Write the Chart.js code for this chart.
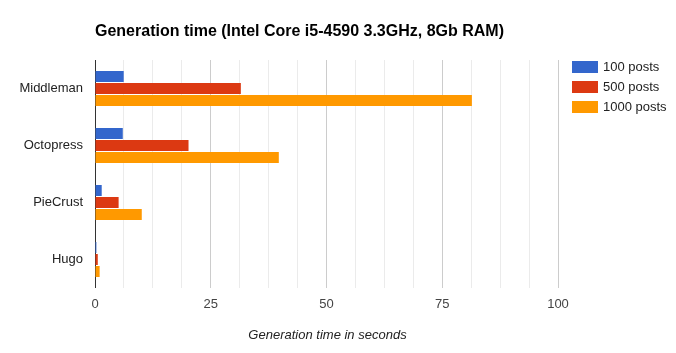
<!DOCTYPE html>
<html>
<head>
<meta charset="utf-8">
<script src="https://cdn.jsdelivr.net/npm/chart.js@4"></script>
<style>
html,body{margin:0;padding:0;background:#fff;}
#wrap{width:676px;height:353px;position:relative;}
</style>
</head>
<body>
<div id="wrap"><canvas id="c" width="676" height="353"></canvas></div>
<script>
const titleText = "Generation time (Intel Core i5-4590 3.3GHz, 8Gb RAM)";
const axisTitle = "Generation time in seconds";
const categories = ["Middleman", "Octopress", "PieCrust", "Hugo"];
const seriesNames = ["100 posts", "500 posts", "1000 posts"];
const posts100 = [6.2, 6.0, 1.45, 0.3];
const posts500 = [31.5, 20.2, 5.1, 0.6];
const posts1000 = [81.4, 39.7, 10.1, 1.0];
const tickLabels = [0, 25, 50, 75, 100];
const colors = ["#3366cc", "#dc3912", "#ff9900"];

const FONT = "Arial, 'Liberation Sans', sans-serif";

const overlay = {
  id: 'overlay',
  afterDraw(chart) {
    const ctx = chart.ctx;
    const ca = chart.chartArea;
    ctx.save();
    ctx.fillStyle = '#000';
    ctx.font = 'bold 16px ' + FONT;
    ctx.textBaseline = 'middle';
    ctx.textAlign = 'left';
    ctx.fillText(titleText, 95, 32);
    // axis title
    ctx.font = 'italic 13px ' + FONT;
    ctx.fillStyle = '#222';
    ctx.textAlign = 'center';
    ctx.fillText(axisTitle, (ca.left + ca.right) / 2 + 1, 335);
    // legend
    ctx.textAlign = 'left';
    ctx.font = '13px ' + FONT;
    chart.data.datasets.forEach((ds, i) => {
      const y = 67 + i * 20;
      ctx.fillStyle = ds.backgroundColor;
      ctx.fillRect(572, y - 6, 26, 12);
      ctx.fillStyle = '#222';
      ctx.fillText(ds.label, 603, y);
    });
    ctx.restore();
  }
};

new Chart(document.getElementById('c'), {
  type: 'bar',
  data: {
    labels: categories,
    datasets: [
      { label: seriesNames[0], data: posts100, backgroundColor: colors[0] },
      { label: seriesNames[1], data: posts500, backgroundColor: colors[1] },
      { label: seriesNames[2], data: posts1000, backgroundColor: colors[2] }
    ]
  },
  options: {
    indexAxis: 'y',
    responsive: false,
    animation: false,
    devicePixelRatio: 1,
    layout: { padding: { top: 60, right: 118, left: 0, bottom: 0 } },
    datasets: { bar: { categoryPercentage: 0.632, barPercentage: 0.917 } },
    plugins: { legend: { display: false }, title: { display: false }, tooltip: { enabled: false } },
    scales: {
      x: {
        min: 0, max: 100,
        afterBuildTicks(scale) {
          const t = [];
          for (let v = 0; v <= 100; v += 6.25) t.push({ value: v });
          scale.ticks = t;
        },
        afterFit(scale) { scale.height = 65; },
        border: { display: false },
        grid: {
          drawTicks: false,
          color(ctx) {
            const v = ctx.tick ? ctx.tick.value : 0;
            if (v === 0) return '#333333';
            if (tickLabels.includes(v)) return '#cccccc';
            return '#ebebeb';
          },
          lineWidth: 1
        },
        ticks: {
          padding: 9,
          color: '#444',
          font: { family: FONT, size: 13 },
          autoSkip: false,
          maxRotation: 0,
          callback(v) { return tickLabels.includes(v) ? String(v) : ''; }
        },
        title: { display: false }
      },
      y: {
        afterFit(scale) { scale.width = 95; },
        border: { display: false },
        grid: { display: false, drawTicks: false },
        ticks: { padding: 12, color: '#222', font: { family: FONT, size: 13 } }
      }
    }
  },
  plugins: [overlay]
});
</script>
</body>
</html>
